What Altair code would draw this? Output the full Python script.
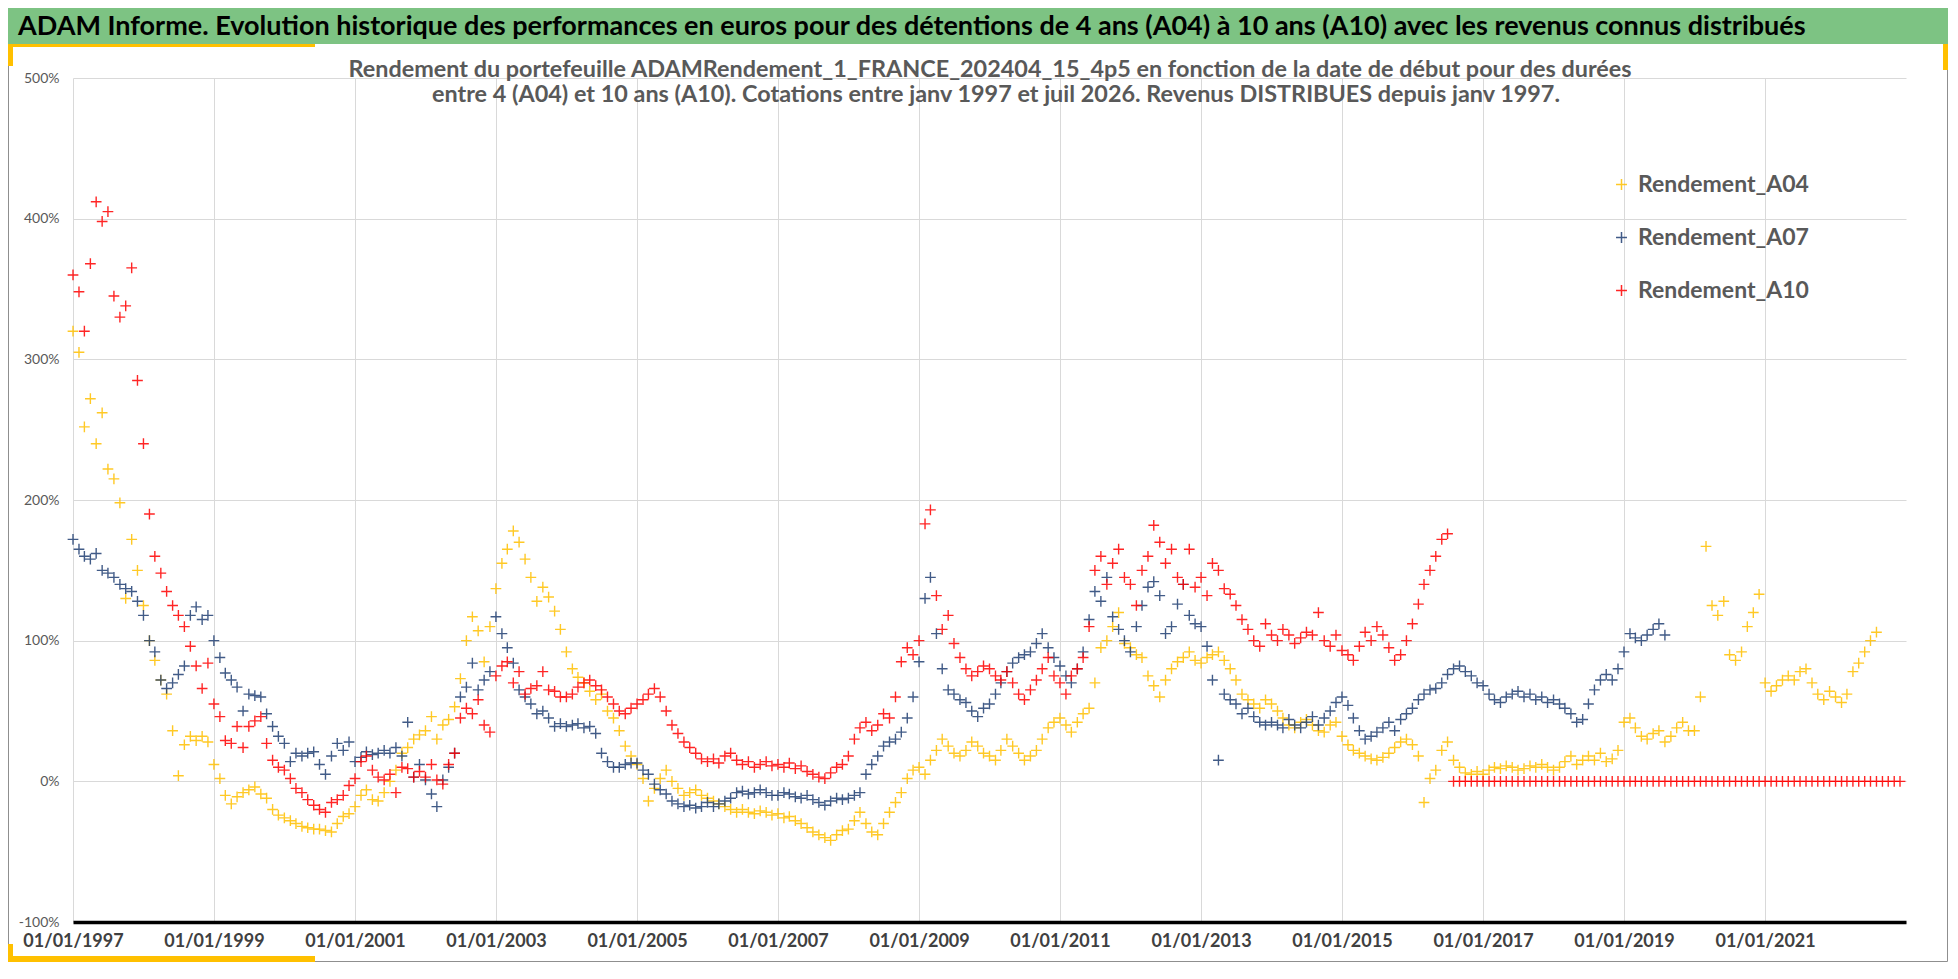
import altair as alt
import pandas as pd

SERIES = ["Rendement_A04", "Rendement_A07", "Rendement_A10"]
COLORS = ["#FFC000", "#213F73", "#FF0000"]

TITLE = ("ADAM Informe. Evolution historique des performances en euros pour des "
         "détentions de 4 ans (A04) à 10 ans (A10) avec les revenus connus distribués")
SUB_1 = ("Rendement du portefeuille ADAMRendement_1_FRANCE_202404_15_4p5  en fonction "
         "de la date de début pour des durées")
SUB_2 = ("entre 4 (A04) et 10 ans (A10). Cotations entre janv 1997 et juil 2026. "
         "Revenus DISTRIBUES depuis janv 1997.")

# monthly readings in %, first value = 01/1997
A04 = [
    320, 305, 252, 272, 240, 262, 222, 215, 198, 130, 172, 150,  # 1997
    125, 100, 86, 72, 62, 36, 4, 26, 32, 29, 32, 28,  # 1998
    12, 2, -10, -16, -11, -8, -6, -4, -9, -12, -20, -24,  # 1999
    -26, -28, -30, -32, -33, -34, -34, -35, -36, -30, -25, -23,  # 2000
    -18, -10, -6, -13, -14, -8, 0, 8, 20, 24, 30, 33,  # 2001
    36, 46, 30, 40, 44, 53, 73, 100, 117, 107, 85, 110,  # 2002
    137, 155, 165, 178, 170, 158, 145, 128, 138, 131, 121, 108,  # 2003
    92, 80, 74, 70, 64, 58, 62, 50, 45, 36, 25, 18,  # 2004
    12, 2, -14, -5, 2, 8, 0, -5, -10, -8, -6, -10,  # 2005
    -12, -14, -16, -18, -20, -22, -20, -22, -23, -21, -22, -24,  # 2006
    -23, -26, -25, -28, -30, -33, -36, -38, -40, -42, -38, -35,  # 2007
    -34, -28, -22, -30, -36, -38, -30, -22, -15, -8, 2, 8,  # 2008
    10, 5, 15, 22, 30, 25, 20, 18, 22, 28, 25, 20,  # 2009
    18, 15, 22, 30, 25, 20, 15, 18, 22, 30, 38, 42,  # 2010
    45, 40, 35, 42, 48, 52, 70, 95, 100, 110, 120, 98,  # 2011
    95, 90, 88, 75, 68, 60, 72, 80, 85, 88, 92, 86,  # 2012
    84, 88, 90, 92, 86, 80, 72, 62, 58, 55, 52, 58,  # 2013
    55, 50, 45, 40, 38, 42, 44, 40, 36, 35, 40, 42,  # 2014
    32, 26, 22, 20, 18, 16, 15, 17, 20, 24, 28, 30,  # 2015
    26, 18, -15, 2, 8, 22, 28, 15, 10, 6, 5, 7,  # 2016
    5, 8, 10, 9, 11, 10, 8, 9, 11, 10, 12, 10,  # 2017
    8, 10, 14, 18, 12, 15, 18, 15, 20, 14, 16, 22,  # 2018
    42, 45, 38, 32, 30, 34, 36, 28, 32, 38, 42, 36,  # 2019
    36, 60, 167, 125, 118, 128, 90, 86, 92, 110, 120, 133,  # 2020
    70, 64, 68, 72, 75, 72, 78, 80, 70, 62, 58, 64,  # 2021
    60, 56, 62, 78, 84, 92, 100, 106,  # 2022
]

A07 = [
    172, 165, 160, 158, 162, 150, 148, 145, 140, 137, 135, 128,  # 1997
    118, 100, 92, 72, 66, 70, 76, 82, 118, 124, 115, 118,  # 1998
    100, 88, 77, 72, 67, 50, 62, 61, 60, 48, 39, 32,  # 1999
    27, 14, 20, 18, 20, 21, 12, 5, 18, 27, 22, 28,  # 2000
    14, 17, 21, 19, 20, 22, 20, 24, 18, 42, 3, 12,  # 2001
    1, -9, -18, 1, 10, 20, 60, 67, 84, 65, 72, 78,  # 2002
    117, 105, 95, 84, 65, 60, 55, 48, 50, 45, 39, 41,  # 2003
    39, 40, 41, 38, 39, 34, 20, 14, 10, 10, 12, 13,  # 2004
    13, 8, 5, -2, -6, -9, -14, -16, -18, -17, -19, -18,  # 2005
    -15, -18, -16, -14, -12, -8, -7, -9, -8, -6, -8, -10,  # 2006
    -10, -8, -9, -11, -12, -10, -13, -15, -17, -14, -12, -13,  # 2007
    -12, -10, -8, 5, 12, 18, 25, 28, 30, 35, 45, 60,  # 2008
    85, 130, 145, 105, 80, 65, 62, 58, 56, 50, 46, 52,  # 2009
    55, 62, 70, 78, 84, 88, 90, 92, 98, 105, 95, 88,  # 2010
    82, 75, 70, 80, 92, 115, 135, 128, 145, 117, 108, 100,  # 2011
    92, 110, 125, 138, 142, 132, 105, 110, 126, 140, 118, 112,  # 2012
    110, 96, 72, 15, 62, 58, 55, 48, 52, 46, 42, 40,  # 2013
    42, 40, 38, 44, 40, 38, 42, 46, 40, 45, 50, 56,  # 2014
    60, 54, 45, 36, 30, 32, 35, 38, 42, 36, 44, 48,  # 2015
    52, 58, 62, 65, 66, 70, 76, 80, 82, 78, 75, 70,  # 2016
    68, 62, 58, 56, 60, 62, 64, 60, 62, 58, 60, 56,  # 2017
    58, 55, 52, 48, 42, 44, 55, 65, 72, 76, 72, 80,  # 2018
    92, 105, 102, 100, 104, 108, 112, 104,  # 2019
]

A10 = [
    360, 348, 320, 368, 412, 398, 405, 345, 330, 338, 365, 285,  # 1997
    240, 190, 160, 148, 135, 125, 118, 110, 96, 82, 66, 84,  # 1998
    55, 46, 29, 27, 39, 24, 39, 43, 46, 27, 15, 10,  # 1999
    8, 2, -5, -8, -13, -17, -20, -22, -15, -13, -10, -3,  # 2000
    2, 14, 18, 8, 3, 1, 5, -8, 10, 9, 3, 7,  # 2001
    3, 12, 1, -2, 12, 20, 45, 52, 48, 58, 40, 35,  # 2002
    75, 82, 85, 70, 78, 62, 66, 68, 78, 65, 64, 60,  # 2003
    60, 62, 67, 70, 72, 68, 65, 60, 55, 50, 48, 52,  # 2004
    55, 58, 62, 66, 60, 50, 40, 34, 28, 24, 20, 16,  # 2005
    14, 16, 13, 18, 20, 15, 12, 14, 10, 12, 14, 11,  # 2006
    12, 10, 13, 9, 11, 7, 5, 3, 2, 6, 10, 12,  # 2007
    18, 30, 38, 42, 36, 40, 48, 45, 60, 85, 95, 90,  # 2008
    100, 183, 193, 132, 108, 118, 98, 88, 80, 75, 78, 82,  # 2009
    80, 75, 72, 78, 70, 62, 58, 65, 72, 80, 88, 75,  # 2010
    70, 62, 75, 80, 88, 110, 150, 160, 140, 155, 165, 145,  # 2011
    140, 125, 150, 160, 182, 170, 155, 165, 145, 140, 165, 138,  # 2012
    145, 132, 155, 150, 137, 133, 125, 115, 108, 100, 96, 112,  # 2013
    104, 100, 108, 104, 98, 102, 106, 104, 120, 100, 96, 104,  # 2014
    93, 90, 86, 96, 106, 100, 110, 104, 95, 86, 90, 100,  # 2015
    112, 126, 140, 150, 160, 172, 176,  # 2016 (to july)
    0, 0, 0, 0, 0,  # 2016 (aug-dec)
    0, 0, 0, 0, 0, 0, 0, 0, 0, 0, 0, 0,  # 2017
    0, 0, 0, 0, 0, 0, 0, 0, 0, 0, 0, 0,  # 2018
    0, 0, 0, 0, 0, 0, 0, 0, 0, 0, 0, 0,  # 2019
    0, 0, 0, 0, 0, 0, 0, 0, 0, 0, 0, 0,  # 2020
    0, 0, 0, 0, 0, 0, 0, 0, 0, 0, 0, 0,  # 2021
    0, 0, 0, 0, 0, 0, 0, 0, 0, 0, 0, 0,  # 2022
]

Y_TICKS = [-100, 0, 100, 200, 300, 400, 500]
X_TICK_YEARS = list(range(1997, 2023, 2))

frames = []
for name, vals in zip(SERIES, [A04, A07, A10]):
    dates = pd.date_range("1997-01-01", periods=len(vals), freq="MS").strftime("%Y-%m-%d")
    frames.append(pd.DataFrame({"date": dates, "value": vals, "series": name}))
df = pd.concat(frames, ignore_index=True)

W, H = 1833, 844
PLUS = "M-1,0L1,0M0,-1L0,1"

points = alt.Chart(df).mark_point(
    shape=PLUS, filled=False, size=115, strokeWidth=1.4, opacity=0.85
).encode(
    x=alt.X("date:T",
            scale=alt.Scale(type="utc", domain=[
                alt.DateTime(year=1997, month=1, date=1, utc=True),
                alt.DateTime(year=2023, month=1, date=1, utc=True)]),
            axis=alt.Axis(values=[alt.DateTime(year=y, month=1, date=1, utc=True)
                                  for y in X_TICK_YEARS],
                          labelExpr="utcFormat(datum.value, '%d/%m/%Y')",
                          title=None, ticks=False, domainColor="#000000",
                          domainWidth=3.5, labelFont="Lato", labelFontSize=18,
                          labelFontWeight="bold", labelColor="#404040",
                          labelPadding=19, labelBaseline="middle",
                          labelOverlap=False, labelFlush=False)),
    y=alt.Y("value:Q",
            scale=alt.Scale(domain=[-100, 500], nice=False, zero=False),
            axis=alt.Axis(values=Y_TICKS, labelExpr="datum.value + '%'", title=None,
                          ticks=False, domain=False, labelFont="Lato", labelFontSize=14,
                          labelColor="#595959", labelPadding=14)),
    color=alt.Color("series:N",
                    scale=alt.Scale(domain=SERIES, range=COLORS),
                    legend=alt.Legend(orient="none", legendX=1537, legendY=95, title=None,
                                      symbolType=PLUS, symbolSize=120, symbolStrokeWidth=1.5,
                                      labelFont="Lato", labelFontSize=23, labelLimit=400,
                                      labelFontWeight="bold", labelColor="#595959",
                                      rowPadding=29, labelOffset=5, padding=0)),
    order=alt.Order("series:N"),
)

one = pd.DataFrame({"k": [0]})


def box(x, x2, y, y2, **style):
    return alt.Chart(one).mark_rect(**style).encode(
        x=alt.value(x), x2=alt.value(x2), y=alt.value(y), y2=alt.value(y2))


def label(txt, x, y, **style):
    return alt.Chart(one).mark_text(text=txt, font="Lato", fontWeight="bold",
                                    baseline="middle", **style).encode(
        x=alt.value(x), y=alt.value(y))


frame = box(-64.5, 1874.5, -69.5, 883.5, fill="transparent", stroke="#8F8F8F", strokeWidth=1)
header = box(-65, 1875, -70, -34, fill="#7DC383")
gold = [
    box(-65, 242, -34, -31, fill="#FFC000"),
    box(-65, -60, -34, -12, fill="#FFC000"),
    box(1870, 1875, -34, -8, fill="#FFC000"),
    box(-65, 242, 878, 884, fill="#FFC000"),
    box(-65, -60, 866, 884, fill="#FFC000"),
]
title = label(TITLE, -55, -51, align="left", fontSize=27, color="#000000")
sub1 = label(SUB_1, 917, -8, align="center", fontSize=23.4, color="#595959")
sub2 = label(SUB_2, 923, 17, align="center", fontSize=23.4, color="#595959")

chart = alt.layer(frame, header, *gold, points, title, sub1, sub2).properties(
    width=W, height=H,
    autosize=alt.AutoSizeParams(type="none"),
    padding={"left": 65, "top": 70, "right": 42, "bottom": 40},
).configure_axis(
    gridColor="#D9D9D9", gridWidth=1
).configure_view(stroke=None)

chart.save("out.html", embed_options={"renderer": "svg", "actions": False})
